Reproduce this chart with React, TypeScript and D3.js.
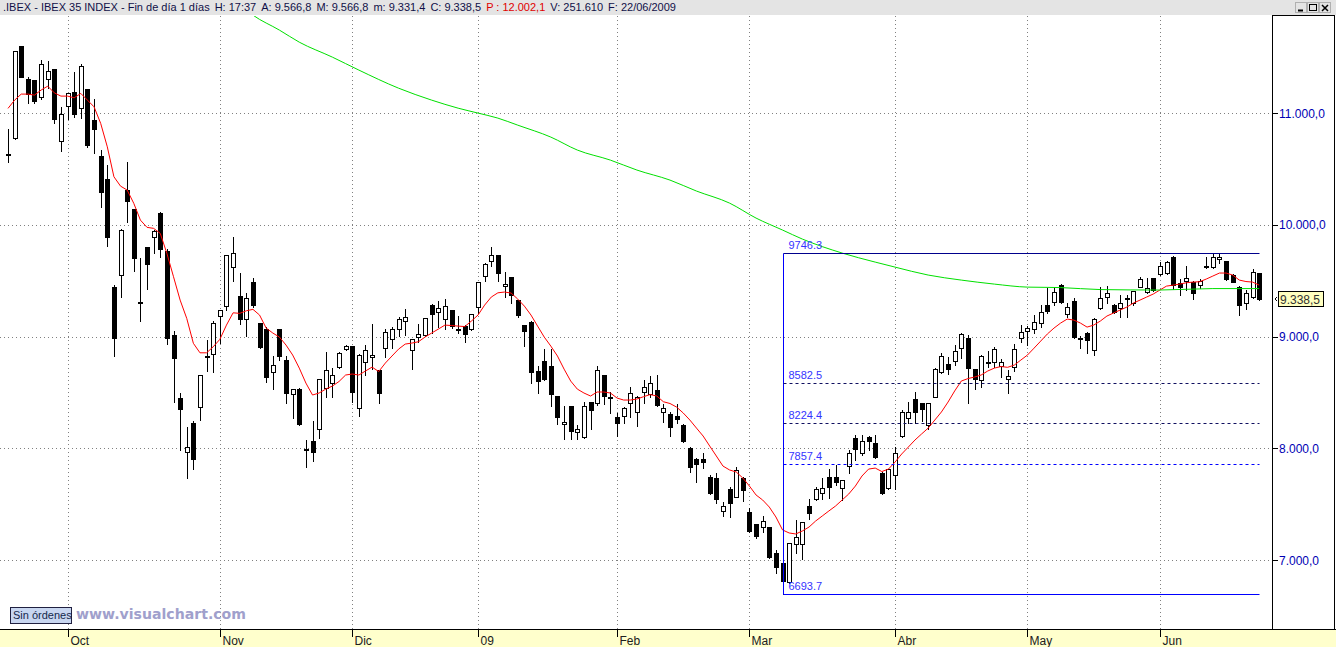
import React, { useEffect, useRef } from 'react';
import * as d3 from 'd3';

// daily OHLC, index 0 = 18/09/2008 ... index 189 = 22/06/2009
const opens = [
  10625, 10774, 11600, 11305, 11293, 11147, 11302, 11392, 10750, 11063,
  11189, 11043, 11215, 10938, 10616, 10407, 9446, 9551, 10312, 10139,
  9300, 9799, 9894, 10108, 9768, 9014, 8447, 7969, 8223, 8372,
  8825, 8841, 9184, 9273, 9625, 9363, 9154, 9488, 9118, 9067,
  8680, 9067, 8790, 8483, 8528, 7986, 8065, 8170, 8537, 8581,
  8725, 8888, 8915, 8358, 8775, 8814, 8700, 8895, 8975, 9065,
  9139, 8878, 8993, 9011, 9280, 9217, 9154, 9235, 9062, 9097,
  9067, 9262, 9542, 9676, 9727, 9452, 9530, 9327, 9100, 9133,
  8692, 8781, 8736, 8468, 8215, 8378, 8148, 8104, 8411, 8408,
  8656, 8460, 8277, 8292, 8408, 8327, 8501, 8486, 8521, 8327,
  8307, 8289, 8208, 7999, 7901, 7901, 7746, 7737, 7439, 7633,
  7567, 7731, 7427, 7322, 7293, 7293, 7065, 6970, 6806, 7143,
  7143, 7486, 7543, 7602, 7741, 7741, 7642, 7841, 8089, 7955,
  8104, 8044, 7781, 7642, 7761, 8110, 8274, 8438, 8402, 8208,
  8456, 8685, 8751, 8784, 8895, 8984, 8707, 8611, 8775, 8772,
  8739, 8617, 8725, 8984, 9050, 9065, 9118, 9282, 9312, 9461,
  9199, 9318, 8990, 9035, 8880, 9253, 9357, 9282, 9253, 9338,
  9297, 9446, 9401, 9521, 9560, 9566, 9715, 9482, 9500, 9491,
  9461, 9620, 9620, 9691, 9676, 9551, 9446, 9303, 9357, 9566.8,
];
const highs = [
  10855, 11560, 11605, 11320, 11300, 11475, 11466, 11395, 11052, 11180,
  11370, 11442, 11220, 11126, 10670, 10535, 9460, 9960, 10565, 10145,
  9700, 9805, 9950, 10112, 9780, 9050, 8492, 8188, 8244, 8655,
  8969, 9139, 9240, 9735, 9888, 9566, 9387, 9527, 9125, 9088,
  8826, 9072, 8826, 8530, 8542, 8074, 8244, 8620, 8864, 8716,
  8864, 8924, 8920, 8840, 8924, 9110, 8705, 9067, 9088, 9172,
  9246, 8980, 9112, 9168, 9291, 9321, 9334, 9240, 9187, 9100,
  9205, 9490, 9656, 9799, 9730, 9578, 9535, 9330, 9105, 9140,
  8736, 8886, 8886, 8472, 8381, 8382, 8208, 8417, 8415, 8736,
  8660, 8506, 8313, 8372, 8551, 8465, 8611, 8647, 8656, 8396,
  8327, 8396, 8215, 8009, 7910, 7960, 7761, 7776, 7522, 7651,
  7830, 7746, 7468, 7325, 7394, 7296, 7090, 7000, 7155, 7358,
  7340, 7543, 7656, 7731, 7811, 7850, 7720, 7985, 8119, 8119,
  8110, 8119, 7785, 7815, 8009, 8343, 8417, 8501, 8405, 8405,
  8716, 8855, 8820, 8924, 9029, 9014, 8710, 8835, 8873, 8904,
  8796, 8700, 8933, 9103, 9094, 9193, 9282, 9432, 9441, 9470,
  9303, 9348, 9005, 9040, 9163, 9446, 9452, 9290, 9372, 9372,
  9412, 9536, 9521, 9525, 9670, 9675, 9720, 9512, 9631, 9495,
  9512, 9715, 9746.3, 9740, 9680, 9560, 9452, 9417, 9602, 9566.8,
];
const lows = [
  10565, 10770, 11320, 11087, 11087, 11123, 11222, 10914, 10663, 10944,
  10967, 10958, 10700, 10640, 10157, 9810, 8828, 9357, 10028, 9589,
  9142, 9423, 9750, 9714, 8930, 8417, 7985, 7737, 7814, 8253,
  8694, 8685, 8942, 9238, 9497, 9112, 9005, 9262, 8895, 8596,
  8528, 8790, 8408, 8268, 8210, 7830, 7883, 8089, 8462, 8462,
  8716, 8880, 8417, 8289, 8656, 8707, 8408, 8820, 8895, 9005,
  9014, 8707, 8954, 9005, 9029, 9088, 9067, 9080, 9034, 8954,
  9055, 9214, 9500, 9631, 9497, 9357, 9303, 9178, 8915, 8587,
  8497, 8611, 8381, 8217, 8080, 8080, 8080, 8089, 8170, 8387,
  8396, 8313, 8110, 8224, 8283, 8199, 8408, 8462, 8380, 8238,
  8110, 8229, 8060, 7785, 7701, 7820, 7591, 7513, 7396, 7382,
  7560, 7528, 7255, 7194, 7253, 7015, 6881, 6693.7, 6791, 7060,
  7006, 7367, 7540, 7543, 7552, 7671, 7537, 7781, 7895, 7940,
  7985, 7910, 7590, 7635, 7633, 8098, 8229, 8229, 8247, 8170,
  8455, 8676, 8665, 8745, 8805, 8408, 8528, 8551, 8725, 8730,
  8635, 8497, 8694, 8954, 8924, 9034, 9083, 9208, 9282, 9305,
  9172, 8990, 8895, 8850, 8835, 9244, 9303, 9208, 9178, 9172,
  9282, 9441, 9392, 9405, 9551, 9560, 9423, 9372, 9417, 9333,
  9432, 9611, 9615, 9655, 9505, 9485, 9193, 9244, 9350, 9331.4,
];
const closes = [
  10635, 11556, 11326, 11171, 11111, 11437, 11379, 10944, 10989, 11177,
  10994, 11421, 10714, 10860, 10296, 9894, 8990, 9954, 10216, 9706,
  9310, 9649, 9945, 9786, 8990, 8811, 8349, 8009, 7901, 8653,
  8815, 9118, 9235, 9730, 9745, 9157, 9342, 9282, 8909, 8641,
  8745, 8828, 8497, 8528, 8215, 7996, 7969, 8617, 8700, 8653,
  8850, 8915, 8506, 8835, 8880, 8835, 8492, 9038, 9065, 9154,
  9178, 8975, 9020, 9163, 9199, 9253, 9273, 9097, 9072, 9020,
  9199, 9485, 9647, 9727, 9566, 9470, 9372, 9193, 9052, 8685,
  8605, 8617, 8488, 8277, 8232, 8157, 8170, 8378, 8343, 8698,
  8471, 8447, 8229, 8358, 8492, 8462, 8546, 8581, 8387, 8358,
  8193, 8259, 8068, 7835, 7859, 7874, 7602, 7543, 7483, 7507,
  7806, 7627, 7262, 7217, 7352, 7024, 6940, 6815, 7149, 7203,
  7337, 7423, 7635, 7642, 7656, 7701, 7716, 7960, 7991, 8068,
  8068, 7925, 7597, 7812, 7960, 8327, 8322, 8322, 8349, 8402,
  8707, 8828, 8707, 8873, 9023, 8716, 8617, 8828, 8766, 8886,
  8775, 8649, 8886, 9038, 9074, 9133, 9222, 9228, 9401, 9312,
  9267, 8999, 8978, 8969, 9154, 9342, 9387, 9222, 9303, 9346,
  9408, 9512, 9432, 9417, 9631, 9670, 9461, 9441, 9521, 9392,
  9497, 9630, 9709, 9709, 9512, 9491, 9282, 9387, 9580, 9338.5,
];

// short moving average (red), one value per bar
const maFast = [
  11043, 11117, 11171, 11171, 11162, 11207, 11242, 11182, 11153, 11153,
  11138, 11177, 11117, 11057, 10909, 10699, 10431, 10347, 10312, 10193,
  10043, 9978, 9969, 9924, 9745, 9536, 9327, 9163, 8940, 8855,
  8855, 8909, 8975, 9103, 9213, 9208, 9231, 9244, 9193, 9076,
  9032, 8996, 8924, 8835, 8718, 8584, 8477, 8495, 8530, 8557,
  8598, 8656, 8665, 8656, 8692, 8727, 8687, 8763, 8826, 8888,
  8933, 8942, 8954, 8996, 9032, 9067, 9103, 9099, 9094, 9090,
  9139, 9193, 9282, 9354, 9392, 9399, 9390, 9336, 9273, 9193,
  9094, 8996, 8915, 8826, 8709, 8602, 8530, 8495, 8468, 8504,
  8504, 8495, 8450, 8432, 8432, 8441, 8462, 8481, 8468, 8417,
  8401, 8369, 8316, 8253, 8181, 8110, 8020, 7931, 7841, 7806,
  7788, 7734, 7662, 7582, 7537, 7474, 7385, 7269, 7242, 7233,
  7260, 7295, 7349, 7394, 7439, 7483, 7537, 7591, 7662, 7752,
  7814, 7823, 7792, 7814, 7877, 7949, 8011, 8074, 8128, 8181,
  8253, 8325, 8414, 8513, 8602, 8624, 8638, 8656, 8692, 8718,
  8732, 8725, 8745, 8790, 8835, 8897, 8960, 9023, 9076, 9121,
  9157, 9148, 9121, 9085, 9103, 9139, 9184, 9211, 9238, 9264,
  9300, 9327, 9354, 9381, 9417, 9452, 9461, 9470, 9482, 9488,
  9491, 9515, 9542, 9569, 9569, 9551, 9506, 9493, 9488, 9461,
];

// long moving average (green), read at these bars
const maSlowIdx = [36, 37, 41, 44, 49, 53, 59, 64, 68, 71, 74, 77, 82, 86, 91, 95, 100, 104, 109, 113, 117, 120, 126, 131, 134, 139, 144, 149, 154, 159, 165, 174, 182, 189];
const maSlowVal = [11923, 11878, 11744, 11636, 11502, 11386, 11224, 11117, 11045, 11001, 10956, 10893, 10786, 10670, 10580, 10491, 10401, 10303, 10195, 10061, 9954, 9873, 9748, 9667, 9622, 9551, 9506, 9470, 9443, 9439, 9421, 9417, 9430, 9430];

const monthLabels = ['Oct', 'Nov', 'Dic', '09', 'Feb', 'Mar', 'Abr', 'May', 'Jun'];
const monthIdx = [9, 32, 52, 71, 92, 112, 134, 154, 174];
const priceTicks = [7000, 8000, 9000, 10000, 11000];

const fibLevels = [9746.3, 8582.5, 8224.4, 7857.4, 6693.7];
const fibStart = 117;
const lastPrice = 9338.5;

const headerParts = [
  '.IBEX - IBEX 35 INDEX - Fin de día 1 días',
  'H: 17:37',
  'A: 9.566,8',
  'M: 9.566,8',
  'm: 9.331,4',
  'C: 9.338,5',
  'P : 12.002,1',
  'V: 251.610',
  'F: 22/06/2009',
];

const App = () => {
  const ref = useRef<SVGSVGElement | null>(null);

  useEffect(() => {
    const W = 1336;
    const H = 647;
    const plotTop = 16;
    const plotBottom = 629;
    const plotRight = 1272;
    const font = 'Liberation Sans, Arial, sans-serif';

    const svg = d3.select(ref.current);
    svg.selectAll('*').remove();

    const x = d3.scaleLinear().domain([0, 189]).range([8, 8 + 189 * 6.62]);
    const y = d3.scaleLinear().domain([7000, 11000]).range([560, 113.2]);
    const px = (v: number) => Math.round(v) + 0.5;
    const fmt = d3
      .formatLocale({ decimal: ',', thousands: '.', grouping: [3], currency: ['', ''] })
      .format(',.1f');

    svg.append('rect').attr('width', W).attr('height', H).attr('fill', '#fff');

    svg.append('defs')
      .append('clipPath')
      .attr('id', 'plot')
      .append('rect')
      .attr('x', 0)
      .attr('y', plotTop)
      .attr('width', plotRight)
      .attr('height', plotBottom - plotTop);

    // header bar, pieces laid out one after the other
    svg.append('rect').attr('width', W).attr('height', 15).attr('fill', '#e4e4e4');
    let hx = 3;
    headerParts.forEach((part) => {
      const t = svg.append('text')
        .attr('x', hx)
        .attr('y', 11)
        .attr('font-family', font)
        .attr('font-size', 11)
        .attr('fill', part.startsWith('P') ? '#e00000' : '#101048')
        .text(part);
      const node = t.node() as SVGTextElement;
      hx += node.getComputedTextLength() + 5;
    });

    // window buttons
    const btn = svg.append('g');
    [1295, 1307, 1319].forEach((bx, i) => {
      btn.append('rect').attr('x', bx + 0.5).attr('y', 2.5).attr('width', 11).attr('height', 10)
        .attr('fill', '#e4e4e4').attr('stroke', '#b0b0b0');
      if (i === 0) btn.append('line').attr('x1', bx + 3).attr('x2', bx + 8).attr('y1', 10.5).attr('y2', 10.5).attr('stroke', '#000').attr('stroke-width', 2);
      if (i === 1) btn.append('rect').attr('x', bx + 2.5).attr('y', 4.5).attr('width', 7).attr('height', 6).attr('fill', 'none').attr('stroke', '#000');
      if (i === 2) {
        btn.append('path').attr('d', `M${bx + 3},5 L${bx + 9},11 M${bx + 9},5 L${bx + 3},11`).attr('stroke', '#000').attr('stroke-width', 1.5);
      }
    });

    // grid
    const grid = svg.append('g').attr('stroke', '#808080').attr('stroke-dasharray', '1,3');
    priceTicks.forEach((t) => {
      grid.append('line').attr('x1', 0).attr('x2', plotRight).attr('y1', px(y(t))).attr('y2', px(y(t)));
    });
    monthIdx.forEach((m) => {
      grid.append('line').attr('x1', px(x(m))).attr('x2', px(x(m))).attr('y1', plotTop).attr('y2', plotBottom);
    });

    const plot = svg.append('g').attr('clip-path', 'url(#plot)');

    // candles
    const candles = plot.append('g').attr('shape-rendering', 'crispEdges');
    opens.forEach((o, i) => {
      const c = closes[i];
      const cx = Math.round(x(i));
      candles.append('line')
        .attr('x1', cx + 0.5).attr('x2', cx + 0.5)
        .attr('y1', Math.round(y(highs[i]))).attr('y2', Math.round(y(lows[i])) + 1)
        .attr('stroke', '#000');
      const top = Math.round(y(Math.max(o, c)));
      const bot = Math.round(y(Math.min(o, c)));
      candles.append('rect')
        .attr('x', cx - 1.5).attr('y', top + 0.5)
        .attr('width', 4).attr('height', Math.max(1, bot - top))
        .attr('fill', c >= o ? '#fff' : '#000')
        .attr('stroke', '#000');
    });

    // moving averages
    const fastLine = d3.line<number>().x((d, i) => x(i)).y((d) => y(d));
    plot.append('path').datum(maFast).attr('d', fastLine)
      .attr('fill', 'none').attr('stroke', '#ff0000').attr('stroke-width', 1);

    const slowLine = d3.line<number>().x((d, i) => x(maSlowIdx[i])).y((d) => y(d)).curve(d3.curveMonotoneX);
    plot.append('path').datum(maSlowVal).attr('d', slowLine)
      .attr('fill', 'none').attr('stroke', '#00e000').attr('stroke-width', 1);

    // fibonacci box
    const fib = svg.append('g');
    const fx0 = px(x(fibStart));
    const fx1 = px(x(189));
    fib.append('line').attr('x1', fx0).attr('x2', fx0)
      .attr('y1', px(y(fibLevels[0]))).attr('y2', px(y(fibLevels[4])))
      .attr('stroke', '#0000ff');
    fibLevels.forEach((lv, i) => {
      const edge = i === 0 || i === fibLevels.length - 1;
      fib.append('line')
        .attr('x1', fx0).attr('x2', fx1)
        .attr('y1', px(y(lv))).attr('y2', px(y(lv)))
        .attr('stroke', i === 0 ? '#00008c' : i === 1 || i === 2 ? '#101060' : '#0000ff')
        .attr('stroke-dasharray', edge ? null : '3,3');
      fib.append('text')
        .attr('x', fx0 + 5)
        .attr('y', y(lv) - 4)
        .attr('font-family', font)
        .attr('font-size', 11)
        .attr('fill', '#3434ff')
        .text(lv.toFixed(1));
    });

    // bottom date band
    svg.append('rect').attr('x', 0).attr('y', plotBottom).attr('width', W).attr('height', H - plotBottom).attr('fill', '#ffffcc');
    svg.append('line').attr('x1', 0).attr('x2', W).attr('y1', plotBottom + 0.5).attr('y2', plotBottom + 0.5).attr('stroke', '#000');
    monthIdx.forEach((m, i) => {
      const mx = px(x(m));
      svg.append('line').attr('x1', mx).attr('x2', mx).attr('y1', plotBottom).attr('y2', plotBottom + 8).attr('stroke', '#000');
      svg.append('text').attr('x', mx + 2).attr('y', 645)
        .attr('font-family', font).attr('font-size', 12).attr('fill', '#202020')
        .text(monthLabels[i]);
    });

    // right price axis
    const axisG = svg.append('g');
    axisG.append('line').attr('x1', plotRight + 0.5).attr('x2', plotRight + 0.5).attr('y1', 15).attr('y2', plotBottom).attr('stroke', '#000');
    axisG.append('line').attr('x1', 1334.5).attr('x2', 1334.5).attr('y1', 15).attr('y2', plotBottom).attr('stroke', '#000');
    axisG.append('line').attr('x1', plotRight).attr('x2', 1335).attr('y1', 15.5).attr('y2', 15.5).attr('stroke', '#000');
    priceTicks.forEach((t) => {
      axisG.append('line').attr('x1', plotRight).attr('x2', plotRight + 6).attr('y1', px(y(t))).attr('y2', px(y(t))).attr('stroke', '#000');
      axisG.append('text').attr('x', 1279).attr('y', y(t) + 4.5)
        .attr('font-family', font).attr('font-size', 12).attr('fill', '#0000b4')
        .text(fmt(t));
    });

    // last price marker
    const ly = Math.round(y(lastPrice));
    axisG.append('rect').attr('x', 1278.5).attr('y', ly - 7.5).attr('width', 45).attr('height', 15)
      .attr('fill', '#ffffc0').attr('stroke', '#000');
    axisG.append('text').attr('x', 1280).attr('y', ly + 4.5)
      .attr('font-family', font).attr('font-size', 12).attr('fill', '#303030')
      .text(fmt(lastPrice));
    axisG.append('path').attr('d', `M1277,${ly - 2} L1275,${ly} L1277,${ly + 2}`).attr('fill', 'none').attr('stroke', '#000');

    // order status + watermark
    svg.append('rect').attr('x', 10.5).attr('y', 607.5).attr('width', 61).attr('height', 16)
      .attr('fill', '#c8d6f0').attr('stroke', '#202040');
    svg.append('text').attr('x', 13).attr('y', 619)
      .attr('font-family', font).attr('font-size', 11).attr('fill', '#14284c')
      .text('Sin órdenes');
    svg.append('text').attr('x', 76).attr('y', 619)
      .attr('font-family', 'DejaVu Sans, Verdana, sans-serif').attr('font-weight', 'bold')
      .attr('font-size', 14).attr('fill', '#a0a0cc')
      .attr('textLength', 170).attr('lengthAdjust', 'spacingAndGlyphs')
      .text('www.visualchart.com');

    return () => {
      d3.select(ref.current).selectAll('*').remove();
    };
  }, []);

  return (
    <svg
      ref={ref}
      width={1336}
      height={647}
      style={{ position: 'absolute', left: 0, top: 0, display: 'block' }}
    />
  );
};

export default App;
